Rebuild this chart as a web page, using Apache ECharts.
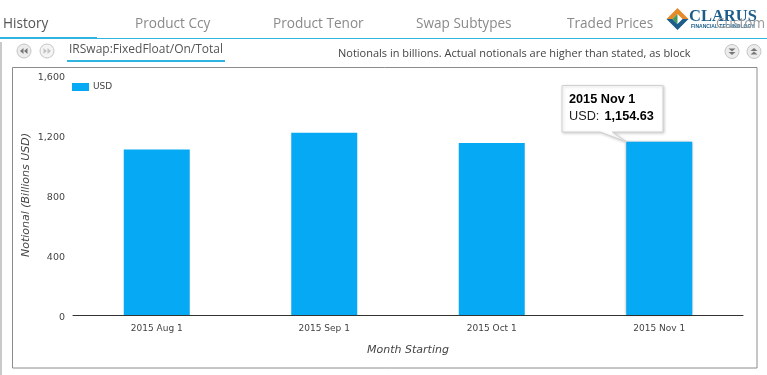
<!DOCTYPE html>
<html><head><meta charset="utf-8">
<script src="https://cdn.jsdelivr.net/npm/echarts@6/dist/echarts.min.js"></script>
<style>html,body{margin:0;padding:0;background:#fff}#c{width:767px;height:375px}</style>
</head><body><div id="c"></div>
<script>
const categories = ['2015 Aug 1','2015 Sep 1','2015 Oct 1','2015 Nov 1'];
const usdValues = [1103, 1215, 1147, 1154.63];
const yTicks = {min:0, max:1600, interval:400};
const tabs = [['History',3,'#555'],['Product Ccy',135,'#8a8a8a'],['Product Tenor',273,'#8a8a8a'],['Swap Subtypes',416,'#8a8a8a'],['Traded Prices',567,'#8a8a8a'],['Custom',716,'#9a9a9a']];
const BLUE='#05a9f4', LINE='#2fb4e0';
const chart = echarts.init(document.getElementById('c'),null,{renderer:'canvas'});
const FONT='"DejaVu Sans"';
chart.setOption({
  animation:false,
  grid:{left:73,right:24,top:75,bottom:60,containLabel:false},
  legend:{show:true,left:67,top:77.5,itemWidth:17,itemHeight:8,itemGap:4,icon:'rect',
    textStyle:{fontFamily:FONT,fontSize:9,color:'#444',padding:[0,0,0,-1]},data:['USD']},
  xAxis:{type:'category',data:categories,
    axisLine:{lineStyle:{color:'#333',width:1}},axisTick:{show:false},
    axisLabel:{fontFamily:FONT,fontSize:9,color:'#444',margin:9},
    name:'Month Starting',nameLocation:'middle',nameGap:30,nameMoveOverlap:false,
    nameTextStyle:{fontFamily:FONT,fontSize:11,fontStyle:'italic',color:'#444'}},
  yAxis:{type:'value',...yTicks,splitLine:{show:false},axisLine:{show:false},axisTick:{show:false},
    axisLabel:{margin:8,formatter:v=>'{a|'+v.toLocaleString('en-US')+'}',
      rich:{a:{fontFamily:FONT,fontSize:9.5,color:'#444',padding:[5,0,0,0]}}},
    name:'Notional (Billions USD)',nameLocation:'middle',nameGap:41,nameMoveOverlap:false,
    nameTextStyle:{fontFamily:FONT,fontSize:11,fontStyle:'italic',color:'#444'}},
  series:[{type:'bar',name:'USD',barWidth:66,itemStyle:{color:BLUE},
    data:usdValues.map((v,i)=>i===usdValues.length-1
      ?{value:v,itemStyle:{color:BLUE,shadowBlur:3,shadowColor:'rgba(0,0,0,0.45)'}}:v)}]
});
const anchor = chart.convertToPixel({seriesIndex:0},[categories.length-1,usdValues[usdValues.length-1]]);
const ax = anchor[0]-33, ay = anchor[1];
const g=[];
g.push({type:'rect',z:-5,shape:{x:12.5,y:67.5,width:744.5,height:300.5},style:{fill:'#fff',stroke:'#8c8c8c',lineWidth:1}});
g.push({type:'rect',shape:{x:0,y:42,width:2,height:333},style:{fill:'#c9c9c9'}});
tabs.forEach(t=>g.push({type:'text',x:t[1],y:24.5,z:t[0]==='Custom'?20:5,style:{text:t[0],fontFamily:'"Open Sans"',fontSize:13.6,fill:t[2],textVerticalAlign:'middle'}}));
g.push({type:'rect',shape:{x:0,y:38,width:767,height:1},style:{fill:LINE}});
g.push({type:'rect',shape:{x:0,y:37,width:97,height:2},style:{fill:LINE}});
g.push({type:'text',x:69,y:50,style:{text:'IRSwap:FixedFloat/On/Total',fontFamily:'"Open Sans"',fontSize:12,fill:'#555',textVerticalAlign:'middle'}});
g.push({type:'rect',shape:{x:67,y:60,width:158,height:2},style:{fill:LINE}});
g.push({type:'text',x:338,y:53.5,style:{text:'Notionals in billions. Actual notionals are higher than stated, as block',fontFamily:'"Open Sans"',fontSize:11,fill:'#444',textVerticalAlign:'middle'}});
function btn(cx,cy,pts,faded){
  g.push({type:'circle',shape:{cx,cy,r:7},style:{fill:faded?'#f4f4f4':'#ececec',stroke:'#c4c4c4',lineWidth:1}});
  pts.forEach(p=>g.push({type:'polygon',shape:{points:p.map(q=>[cx+q[0],cy+q[1]])},style:{fill:faded?'#c4c4c4':'#777'}}));
}
btn(24,51,[[[-4,0],[-0.5,-3],[-0.5,3]],[[0,0],[3.5,-3],[3.5,3]]]);
btn(47,51,[[[-3.5,-3],[0,0],[-3.5,3]],[[0.5,-3],[4,0],[0.5,3]]],true);
btn(732,51.5,[[[-3.5,-3],[3.5,-3],[0,0]],[[-3.5,0.5],[3.5,0.5],[0,3.5]]]);
btn(754,51.5,[[[0,-3.5],[3.5,-0.5],[-3.5,-0.5]],[[0,0],[3.5,3],[-3.5,3]]]);
const lx=677.5, ly=19;
g.push({type:'polygon',z:6,shape:{points:[[lx,ly-11],[lx+11,ly],[lx+5,ly],[lx,ly-5],[lx-5,ly],[lx-11,ly]]},style:{fill:'#e58b2a'}});
g.push({type:'polygon',z:7,shape:{points:[[lx-11,ly],[lx,ly+11],[lx+11,ly],[lx+5,ly],[lx,ly+5],[lx-5,ly]]},style:{fill:'#1d5d8c'}});
g.push({type:'polygon',z:8,shape:{points:[[lx-5,ly],[lx,ly-5],[lx,ly+5]]},style:{fill:'#3f9a5b'}});
g.push({type:'text',x:689,y:17,z:6,style:{text:'CLARUS',fontFamily:'"Liberation Serif"',fontWeight:'bold',fontSize:16.5,fill:'#1d5d8c',textVerticalAlign:'middle'}});
g.push({type:'text',x:691,y:27,z:6,style:{text:'FINANCIAL TECHNOLOGY',fontFamily:'"Liberation Sans"',fontWeight:'bold',fontSize:5,fill:'#1d5d8c',textVerticalAlign:'middle'}});
const L=562,T=85.5,R=663,B=132;
g.push({type:'polygon',z:30,shape:{points:[[L,T],[R,T],[R,B],[ax-14,B],[ax,ay],[ax-26,B],[L,B]]},
  style:{fill:'#fff',stroke:'#d2d2d2',lineWidth:1,shadowBlur:3,shadowColor:'rgba(0,0,0,0.18)',shadowOffsetX:1,shadowOffsetY:1}});
g.push({type:'text',z:31,x:569,y:99.5,style:{text:'2015 Nov 1',fontFamily:'"Liberation Sans"',fontWeight:'bold',fontSize:12.7,fill:'#000',textVerticalAlign:'middle'}});
g.push({type:'text',z:31,x:569,y:116,style:{text:'USD: ',fontFamily:'"Liberation Sans"',fontSize:12.7,fill:'#222',textVerticalAlign:'middle'}});
g.push({type:'text',z:31,x:604.5,y:116,style:{text:usdValues[3].toLocaleString('en-US'),fontFamily:'"Liberation Sans"',fontWeight:'bold',fontSize:12.7,fill:'#000',textVerticalAlign:'middle'}});
chart.setOption({graphic:{elements:g}});
</script></body></html>
